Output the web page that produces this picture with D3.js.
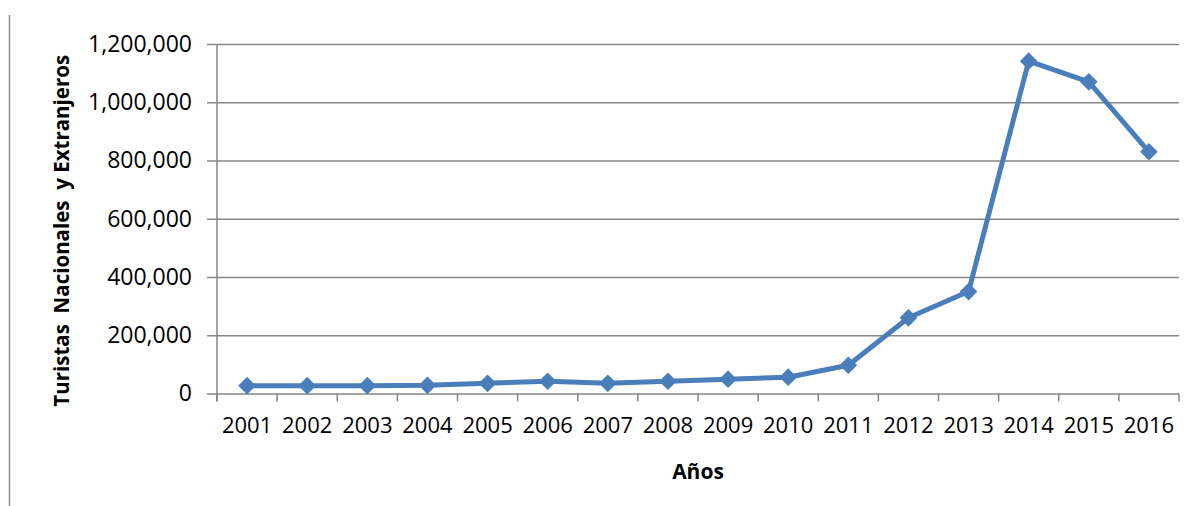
<!DOCTYPE html>
<html>
<head>
<meta charset="utf-8">
<script src="https://cdn.jsdelivr.net/npm/d3@7"></script>
<style>
  html, body { margin: 0; padding: 0; background: #fff; }
  svg { display: block; }
  text { font-family: "Open Sans", "Noto Sans", sans-serif; fill: #000; }
</style>
</head>
<body>
<svg id="chart" width="1196" height="506"></svg>
<script>
// Turistas nacionales y extranjeros por año
const years = ["2001","2002","2003","2004","2005","2006","2007","2008",
               "2009","2010","2011","2012","2013","2014","2015","2016"];
const visitors = [27000, 27000, 27000, 28000, 35000, 42000, 35000, 42000,
                  49000, 56000, 97000, 260000, 350000, 1141000, 1070000, 830000];
const yTicks = [0, 200000, 400000, 600000, 800000, 1000000, 1200000];
const yTitle = "Turistas  Nacionales  y Extranjeros";
const xTitle = "Años";

const svg = d3.select("#chart");
const m = { left: 217, right: 1179, top: 44, bottom: 393.5 };

const x = d3.scaleBand().domain(years).range([m.left, m.right]);
const y = d3.scaleLinear().domain([0, 1200000]).range([m.bottom, m.top]);
const fmt = d3.format(",");

// frame line at the left edge
svg.append("line")
  .attr("x1", 9.5).attr("x2", 9.5).attr("y1", 15).attr("y2", 506)
  .attr("stroke", "#8c8c8c").attr("stroke-width", 1.5);

// horizontal gridlines with y labels
const yAxis = d3.axisLeft(y).tickValues(yTicks).tickFormat(fmt)
  .tickSize(-(m.right - m.left)).tickPadding(14);
const gy = svg.append("g").attr("transform", `translate(${m.left},0)`).call(yAxis);
gy.select(".domain").remove();
gy.selectAll(".tick line")
  .attr("x1", -10)
  .attr("stroke", "#868686").attr("stroke-width", 1.5);
gy.selectAll(".tick text")
  .attr("x", -25)
  .style("font-size", "23px").style("font-family", "'Open Sans', sans-serif");

// vertical axis line
svg.append("line")
  .attr("x1", m.left).attr("x2", m.left).attr("y1", m.top).attr("y2", m.bottom + 8)
  .attr("stroke", "#868686").attr("stroke-width", 1.5);

// x axis with ticks between categories
const tickPos = years.map(d => x(d)).concat([m.right]);
svg.append("g").selectAll("line").data(tickPos).join("line")
  .attr("x1", d => d).attr("x2", d => d)
  .attr("y1", m.bottom).attr("y2", m.bottom + 8)
  .attr("stroke", "#868686").attr("stroke-width", 1.5);

const xAxis = d3.axisBottom(x).tickSize(0).tickPadding(24);
const gx = svg.append("g").attr("transform", `translate(0,${m.bottom})`).call(xAxis);
gx.select(".domain").remove();
gx.selectAll(".tick text")
  .style("font-size", "22px").style("font-family", "'Open Sans', sans-serif");

// series line
const cx = d => x(d) + x.bandwidth() / 2;
const line = d3.line().x((d, i) => cx(years[i])).y(d => y(d));
svg.append("path")
  .datum(visitors)
  .attr("d", line)
  .attr("fill", "none")
  .attr("stroke", "#4a7ebb")
  .attr("stroke-width", 5)
  .attr("stroke-linejoin", "round");

// diamond markers
const diamond = d3.symbol().type(d3.symbolDiamond2).size(200);
svg.append("g").selectAll("path").data(visitors).join("path")
  .attr("d", diamond)
  .attr("transform", (d, i) => `translate(${cx(years[i])},${y(d)})`)
  .attr("fill", "#4a7ebb");

// axis titles
svg.append("text")
  .attr("transform", `translate(69,${(m.top + m.bottom) / 2 + 12}) rotate(-90)`)
  .attr("text-anchor", "middle")
  .style("white-space", "pre")
  .style("font-size", "20.5px").style("font-weight", "bold")
  .text(yTitle);

svg.append("text")
  .attr("x", (m.left + m.right) / 2).attr("y", 479)
  .attr("text-anchor", "middle")
  .style("font-size", "21px").style("font-weight", "bold")
  .text(xTitle);
</script>
</body>
</html>
